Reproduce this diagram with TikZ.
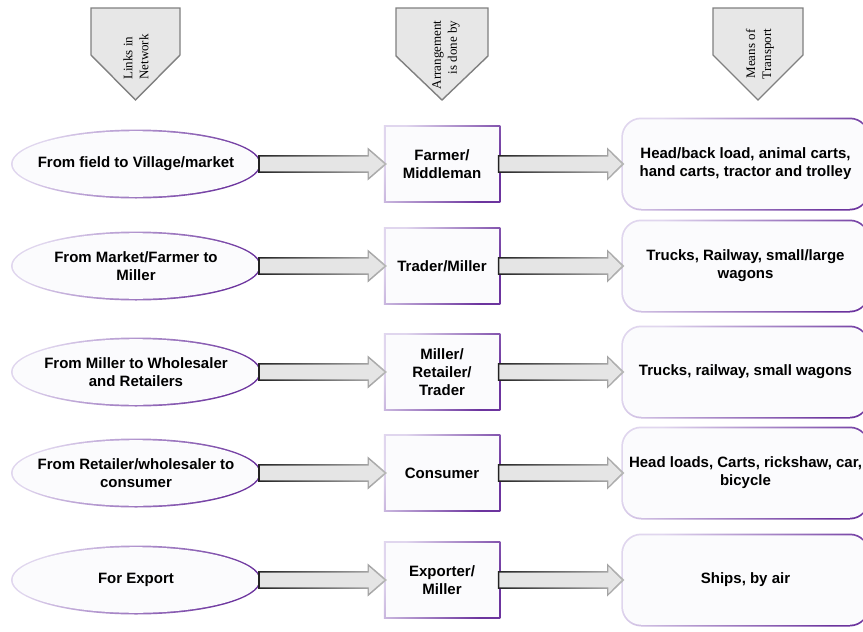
\documentclass[tikz,border=0pt]{standalone}
\usepackage{fontspec}
\setmainfont{Liberation Sans}
\newfontfamily\hdrfont{Liberation Serif}
\usetikzlibrary{shapes.geometric,calc}

\definecolor{lav}{RGB}{224,214,238}
\definecolor{purp}{RGB}{108,52,158}
\definecolor{shapefill}{RGB}{251,251,253}
\definecolor{arrfill}{RGB}{229,229,229}
\definecolor{arrdark}{RGB}{35,35,35}
\definecolor{arrlight}{RGB}{185,185,185}
\definecolor{hdrfill}{RGB}{231,231,231}
\definecolor{hdrline}{RGB}{128,128,128}

\tikzset{
  lbl/.style={font=\fontsize{15}{18}\selectfont\bfseries, align=center, text=black},
  hdrtext/.style={font=\hdrfont\fontsize{13}{16}\selectfont, rotate=90, inner sep=0pt},
  hdrshape/.style={fill=hdrfill, draw=hdrline, line width=1.4pt, line join=miter},
  rimshade/.style={left color=lav, right color=purp, shading angle=60},
  ellrim/.style={ellipse, rimshade, minimum width=250pt, minimum height=69pt, inner sep=0pt},
  ellbody/.style={ellipse, fill=shapefill, minimum width=246.6pt, minimum height=65.6pt, inner sep=0pt},
  boxrim/.style={rectangle, rimshade, minimum width=116.5pt, minimum height=77.5pt, inner sep=0pt},
  boxbody/.style={rectangle, fill=shapefill, minimum width=113pt, minimum height=74pt, inner sep=0pt, lbl},
  rndrim/.style={rectangle, rounded corners=20pt, rimshade, minimum width=248.5pt, minimum height=93pt, inner sep=0pt},
  rndbody/.style={rectangle, rounded corners=18.3pt, fill=shapefill, minimum width=245pt, minimum height=89.5pt, inner sep=0pt, lbl},
  arrowrim/.style={left color=arrdark, right color=arrlight},
  arrowbody/.style={fill=arrfill},
}

% fat block arrow between two named nodes; #3 = head length
\newcommand\fatarrow[3]{%
  \path[arrowrim] let \p1=(#1.east), \p2=(#2.west) in
    (\x1-0.8pt,\y1+8.8pt) -- (\x2-#3pt-0.8pt,\y1+8.8pt) -- (\x2-#3pt-0.8pt,\y1+16.6pt)
    -- (\x2+1.6pt,\y1) -- (\x2-#3pt-0.8pt,\y1-16.6pt) -- (\x2-#3pt-0.8pt,\y1-8.8pt)
    -- (\x1-0.8pt,\y1-8.8pt) -- cycle;
  \path[arrowbody] let \p1=(#1.east), \p2=(#2.west) in
    (\x1+0.6pt,\y1+7.4pt) -- (\x2-#3pt+0.6pt,\y1+7.4pt) -- (\x2-#3pt+0.6pt,\y1+13.4pt)
    -- (\x2-1.2pt,\y1) -- (\x2-#3pt+0.6pt,\y1-13.4pt) -- (\x2-#3pt+0.6pt,\y1-7.4pt)
    -- (\x1+0.6pt,\y1-7.4pt) -- cycle;
}

\newcommand\flowrow[5]{%
  \node[ellrim] (er#1) at (136,#2) {};
  \node[ellbody, label={[lbl]center:{#3}}] (e#1) at (136,#2) {};
  \node[boxrim] (mr#1) at (442,#2) {};
  \node[boxbody] (m#1) at (442,#2) {#4};
  \node[rndrim] (rr#1) at (745.5,#2) {};
  \node[rndbody] (r#1) at (745.5,#2) {#5};
  \fatarrow{e#1}{m#1}{17}
  \fatarrow{m#1}{r#1}{15}
}

\begin{document}
\begin{tikzpicture}[x=1pt,y=-1pt]
\useasboundingbox (0,0) rectangle (863,632);
\clip (0,0) rectangle (863,632);
\fill[white] (0,0) rectangle (863,632);

% header pentagons
\draw[hdrshape] (91,8) -- (180,8) -- (180,55) -- (135.5,100) -- (91,55) -- cycle;
\node[hdrtext, align=left] (h1) at (136,57) {Links in\\Network};

\draw[hdrshape] (396,8) -- (488,8) -- (488,56) -- (442,100) -- (396,56) -- cycle;
\node[hdrtext, align=right] (h2) at (446,55) {Arrangement\\is done by};

\draw[hdrshape] (713,8) -- (803,8) -- (803,55) -- (758,100) -- (713,55) -- cycle;
\node[hdrtext, align=center] (h3) at (760,54) {Means of\\Transport};

% rows
\flowrow{1}{164}{From field to Village/market}{Farmer/\\Middleman}{Head/back load, animal carts,\\hand carts, tractor and trolley}
\flowrow{2}{266}{From Market/Farmer to\\Miller}{Trader/Miller}{Trucks, Railway, small/large\\wagons}
\flowrow{3}{372}{From Miller to Wholesaler\\and Retailers}{Miller/\\Retailer/\\Trader}{Trucks, railway, small wagons}
\flowrow{4}{473}{From Retailer/wholesaler to\\consumer}{Consumer}{Head loads, Carts, rickshaw, car,\\bicycle}
\flowrow{5}{580}{For Export}{Exporter/\\Miller}{Ships, by air}
\end{tikzpicture}
\end{document}
